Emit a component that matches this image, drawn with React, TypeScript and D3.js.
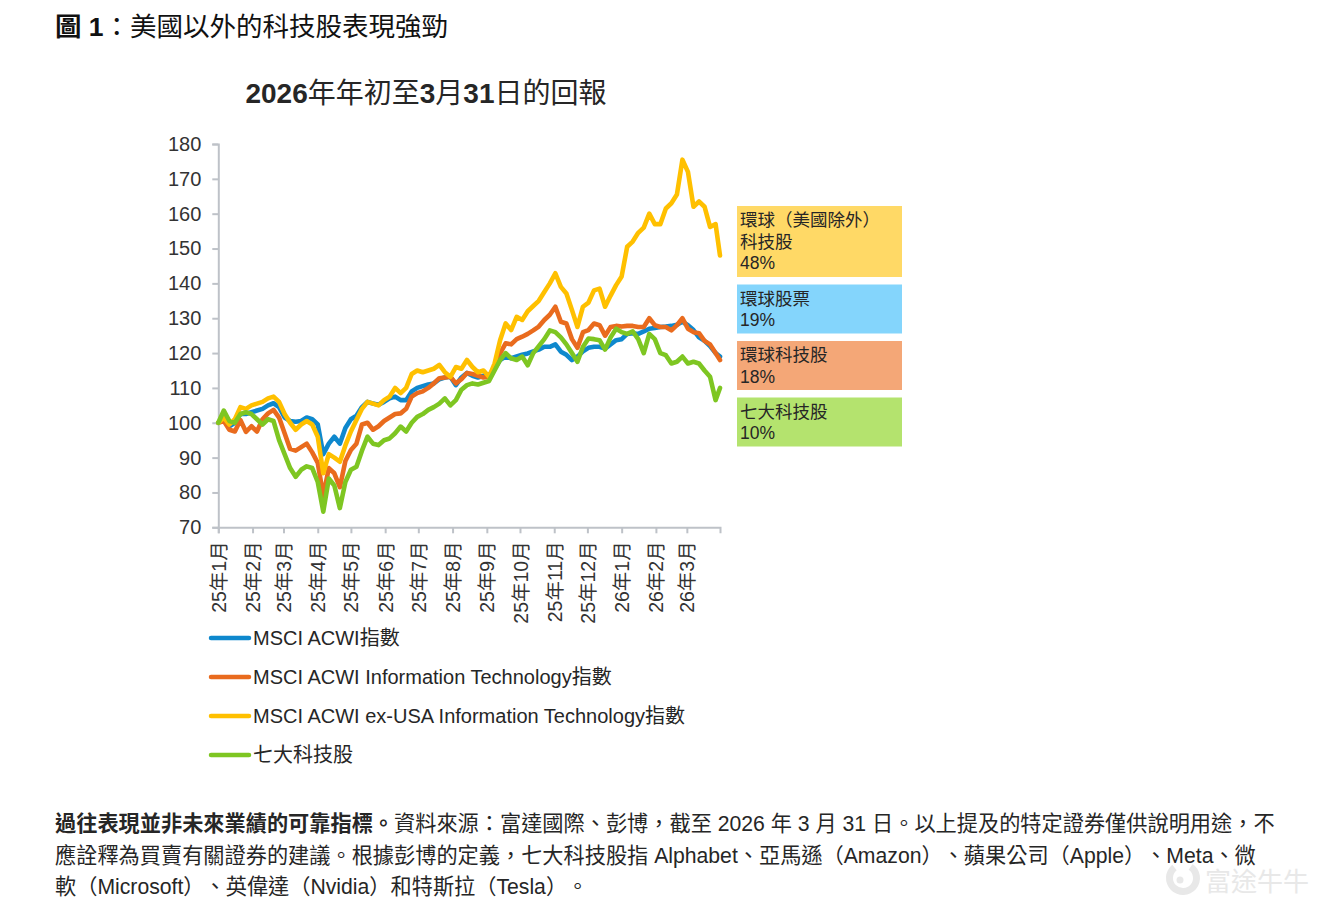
import { useRef, useEffect } from "react";
import * as d3 from "d3";

// sample dates (every 5 days) shared by all four series
const dates = [
  "2025-01-01", "2025-01-06", "2025-01-11", "2025-01-16", "2025-01-21", "2025-01-26", "2025-01-31",
  "2025-02-05", "2025-02-10", "2025-02-15", "2025-02-20", "2025-02-25",
  "2025-03-02", "2025-03-07", "2025-03-12", "2025-03-17", "2025-03-22", "2025-03-27",
  "2025-04-01", "2025-04-06", "2025-04-11", "2025-04-16", "2025-04-21", "2025-04-26",
  "2025-05-01", "2025-05-06", "2025-05-11", "2025-05-16", "2025-05-21", "2025-05-26", "2025-05-31",
  "2025-06-05", "2025-06-10", "2025-06-15", "2025-06-20", "2025-06-25", "2025-06-30",
  "2025-07-05", "2025-07-10", "2025-07-15", "2025-07-20", "2025-07-25", "2025-07-30",
  "2025-08-04", "2025-08-09", "2025-08-14", "2025-08-19", "2025-08-24", "2025-08-29",
  "2025-09-03", "2025-09-08", "2025-09-13", "2025-09-18", "2025-09-23", "2025-09-28",
  "2025-10-03", "2025-10-08", "2025-10-13", "2025-10-18", "2025-10-23", "2025-10-28",
  "2025-11-02", "2025-11-07", "2025-11-12", "2025-11-17", "2025-11-22", "2025-11-27",
  "2025-12-02", "2025-12-07", "2025-12-12", "2025-12-17", "2025-12-22", "2025-12-27",
  "2026-01-01", "2026-01-06", "2026-01-11", "2026-01-16", "2026-01-21", "2026-01-26", "2026-01-31",
  "2026-02-05", "2026-02-10", "2026-02-15", "2026-02-20", "2026-02-25",
  "2026-03-02", "2026-03-07", "2026-03-12", "2026-03-17", "2026-03-22", "2026-03-27", "2026-03-31",
];

const acwi = [
  100, 101, 99, 100, 102.5, 102.5, 103,
  103.5, 104, 105, 105.6, 104.5,
  101.5, 100.5, 100.3, 100.5, 101.5, 101,
  99.5, 91, 94, 96, 94, 98.5,
  101, 102, 104.5, 106, 105.5, 105.2, 106,
  107, 107.5, 106.5, 106.5, 109, 110,
  110.5, 111, 111.3, 112.5, 113, 113.2,
  110.8, 113, 114.3, 113.5, 113, 113.5,
  113.7, 115.5, 118, 119, 118.5, 119,
  119.5, 119.9, 120.5, 121, 121.8, 121.8,
  122.5, 120.4, 119.5, 118, 119, 120.5,
  121.5, 121.8, 121.8, 121.3, 122.5, 123.7,
  124, 125.5, 125.7, 125.5, 126.2, 127, 127.2,
  127.5, 127.6, 127.8, 128.1, 129,
  128, 126.6, 124.5, 123.5, 122, 120, 119,
];

const acwiIT = [
  100, 100.5, 98, 97.5, 100.8, 97.4, 99,
  97.5, 101, 102.7, 103.7, 101.5,
  97, 92.5, 92, 93, 94, 91.5,
  88.5, 79, 87, 85.5, 81.5, 89,
  92.2, 94, 99.5, 100, 98, 99, 100.5,
  101.5, 102.5, 102.7, 104, 107.5, 108.5,
  109, 110, 111.3, 112.8, 113, 113.2,
  111.3, 112.5, 114.3, 114, 113.5, 113,
  113.2, 116, 119.9, 122.8, 122.5, 124,
  124.7, 125.5, 126.5, 127.6, 129.5, 131,
  133.3, 129, 128.5, 124, 121.5, 126,
  126.6, 128.5, 128, 125, 127.5, 127.8,
  127.6, 127.8, 127.8, 127.5, 127.5, 130, 128,
  127.5, 127.5, 126.5, 128, 130,
  127, 126, 125.7, 123.5, 122.5, 120, 118,
];

const exUsaIT = [
  100, 101.5, 99.5, 101, 104.5, 104, 105,
  105.5, 106, 107, 107.5, 106,
  102.5, 100, 98, 99.5, 100.5, 99.5,
  96, 85.5, 91, 90, 88.8, 93.5,
  97.5, 100.8, 104, 106, 105.5, 105, 106.5,
  107.5, 110, 108.5, 110, 114, 115,
  114.5, 115, 115.5, 116.6, 114.5, 113.2,
  116, 115.5, 118, 116, 114.5, 115,
  113.2, 117, 123.7, 128.5, 126.6, 130.4,
  129.5, 132, 133.5, 135, 137.5, 140,
  142.9, 139, 137.1, 132.4, 127.5, 133.3,
  134.5, 138, 138.5, 133.3, 136.5, 139.5,
  142, 150.5, 152, 154.5, 156, 160, 157,
  157, 161.5, 163, 165.5, 175.5,
  172, 162, 163.5, 162, 156.2, 157, 148,
];

const mag7 = [
  100, 103.5, 100.5, 100, 102.5, 103, 102.5,
  101, 99.5, 101, 100.5, 95,
  91, 87, 84.5, 86.5, 87.5, 87,
  83, 74.5, 84, 82, 75.5, 83,
  86.5, 87.4, 92, 96, 94, 93.6, 95,
  95.5, 97, 98.9, 97.5, 100, 101.7,
  102.5, 103.7, 104.5, 105.5, 107, 105,
  106.5, 109.5, 110.8, 111.3, 111, 111.5,
  112, 115, 118, 120, 118.5, 118,
  119, 116.5, 120, 122, 124, 126.5,
  126, 124.5, 122.5, 120, 117.5, 121.8,
  124.2, 124, 123.7, 121, 124.5, 127,
  126, 125.5, 126.2, 124, 120, 125.5, 124,
  120, 119.4, 117, 117.5, 119,
  117, 117.5, 117, 115, 113.2, 106.5, 110,
];

const yTicks = [70, 80, 90, 100, 110, 120, 130, 140, 150, 160, 170, 180];
const monthLabels = [
  "25年1月", "25年2月", "25年3月", "25年4月", "25年5月", "25年6月", "25年7月", "25年8月",
  "25年9月", "25年10月", "25年11月", "25年12月", "26年1月", "26年2月", "26年3月",
];

const seriesNames = [
  "MSCI ACWI指數",
  "MSCI ACWI Information Technology指數",
  "MSCI ACWI ex-USA Information Technology指數",
  "七大科技股",
];
const seriesColors = ["#0E88CD", "#E96B1E", "#FFC000", "#7EC622"];

// callout boxes on the right
const calloutNames = [["環球（美國除外）", "科技股"], ["環球股票"], ["環球科技股"], ["七大科技股"]];
const calloutReturns = [48, 19, 18, 10];
const calloutColors = ["#FFD966", "#84D5FC", "#F4A777", "#B4E36E"];

const FONT = "'Liberation Sans', Arial, 'Noto Sans CJK TC', sans-serif";

export default function App() {
  const ref = useRef<SVGSVGElement>(null);
  const width = 1343;
  const height = 912;

  useEffect(() => {
    if (!ref.current) return;
    const svg = d3.select(ref.current);
    svg.selectAll("*").remove();

    const parse = d3.timeParse("%Y-%m-%d");
    const t = dates.map(d => parse(d)!);
    const start = parse("2025-01-01")!;
    const end = parse("2026-03-31")!;

    const x = d3.scaleTime().domain([start, end]).range([218.3, 720]);
    const y = d3.scaleLinear().domain([70, 180]).range([527.3, 144]);

    // heading
    const title = svg.append("text").attr("x", 55).attr("y", 36)
      .attr("font-family", FONT).attr("font-size", 26.5).attr("fill", "#111");
    title.append("tspan").attr("font-weight", "bold").text("圖 1");
    title.append("tspan").text("：美國以外的科技股表現強勁");

    const sub = svg.append("text").attr("x", 426).attr("y", 103).attr("text-anchor", "middle")
      .attr("font-family", FONT).attr("font-size", 28).attr("fill", "#262626");
    [["2026", true], ["年年初至", false], ["3", true], ["月", false], ["31", true], ["日的回報", false]]
      .forEach(([s, b]) => sub.append("tspan").attr("font-weight", b ? "bold" : "normal").text(s as string));

    // axes
    const axisColor = "#BEC2C8";
    const yAxis = svg.append("g").attr("transform", "translate(218.3,0)")
      .call(d3.axisLeft(y).tickValues(yTicks).tickSize(6).tickPadding(11));
    yAxis.selectAll("text").attr("font-family", FONT).attr("font-size", 20).attr("fill", "#333");

    const months = d3.timeMonth.range(start, end);
    const xAxis = svg.append("g").attr("transform", "translate(0,527.3)")
      .call(d3.axisBottom(x).tickValues(months).tickSize(6).tickFormat((_, i) => monthLabels[i]));
    xAxis.selectAll("text")
      .attr("font-family", FONT).attr("font-size", 19.5).attr("fill", "#333")
      .attr("text-anchor", "end").attr("transform", "rotate(-90)")
      .attr("x", -14).attr("y", 0).attr("dy", "0.36em");

    svg.selectAll(".domain").attr("stroke", axisColor).attr("stroke-width", 2);
    svg.selectAll(".tick line").attr("stroke", axisColor).attr("stroke-width", 2);

    // series lines
    const allSeries = [acwi, acwiIT, exUsaIT, mag7];
    const line = d3.line<number>()
      .x((_, i) => x(t[i]))
      .y(d => y(d));
    allSeries.forEach((vals, k) => {
      svg.append("path").datum(vals).attr("d", line)
        .attr("fill", "none").attr("stroke", seriesColors[k]).attr("stroke-width", 4.6)
        .attr("stroke-linejoin", "round").attr("stroke-linecap", "round");
    });

    // callouts
    let top = 206;
    calloutNames.forEach((lines, k) => {
      const rows = [...lines, `${calloutReturns[k]}%`];
      const h = 5 + rows.length * 22;
      svg.append("rect").attr("x", 737).attr("y", top).attr("width", 165).attr("height", h)
        .attr("fill", calloutColors[k]);
      rows.forEach((r, i) => {
        svg.append("text").attr("x", 740).attr("y", top + 14 + i * 21.5).attr("dy", "0.36em")
          .attr("font-family", FONT).attr("font-size", 17.5).attr("fill", "#262626").text(r);
      });
      top += h + 7.5;
    });

    // legend
    seriesNames.forEach((name, k) => {
      const ly = 638 + k * 39;
      svg.append("line").attr("x1", 211).attr("x2", 249).attr("y1", ly).attr("y2", ly)
        .attr("stroke", seriesColors[k]).attr("stroke-width", 4.5).attr("stroke-linecap", "round");
      svg.append("text").attr("x", 253).attr("y", ly).attr("dy", "0.36em")
        .attr("font-family", FONT).attr("font-size", 20).attr("fill", "#262626").text(name);
    });

    // footnote
    const note = svg.append("g").attr("font-family", FONT).attr("font-size", 21.2).attr("fill", "#262626")
      .style("text-spacing-trim", "space-all");
    const l1 = note.append("text").attr("x", 55).attr("y", 831);
    l1.append("tspan").attr("font-weight", "bold").text("過往表現並非未來業績的可靠指標。");
    l1.append("tspan").text("資料來源：富達國際、彭博，截至 2026 年 3 月 31 日。以上提及的特定證券僅供說明用途，不");
    note.append("text").attr("x", 55).attr("y", 863)
      .text("應詮釋為買賣有關證券的建議。根據彭博的定義，七大科技股指 Alphabet、亞馬遜（Amazon）、蘋果公司（Apple）、Meta、微");
    note.append("text").attr("x", 55).attr("y", 894)
      .text("軟（Microsoft）、英偉達（Nvidia）和特斯拉（Tesla）。");

    // watermark with a simple round mark
    const wm = svg.append("g").attr("fill", "#E8E8E8");
    wm.append("path")
      .attr("d", d3.arc()({ innerRadius: 10, outerRadius: 17, startAngle: 0.6, endAngle: 5.6 }) as string)
      .attr("transform", "translate(1183,878)");
    wm.append("circle").attr("cx", 1180).attr("cy", 880).attr("r", 3.5);
    wm.append("text").attr("x", 1205).attr("y", 891)
      .attr("font-family", FONT).attr("font-size", 26).text("富途牛牛");
  }, []);

  return (
    <svg ref={ref} width={width} height={height}
      style={{ position: "absolute", left: 0, top: 0, background: "#fff" }} />
  );
}
